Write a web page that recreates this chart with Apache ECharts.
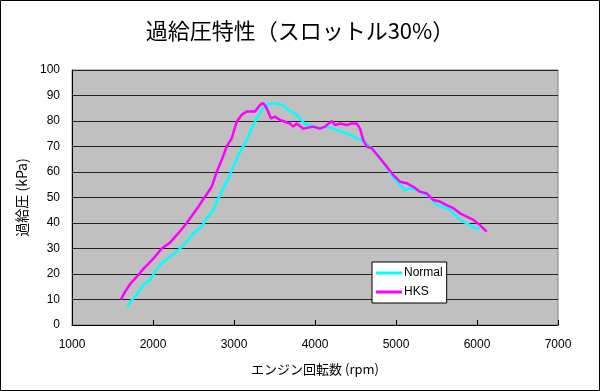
<!DOCTYPE html>
<html>
<head>
<meta charset="utf-8">
<script src="https://cdn.jsdelivr.net/npm/echarts@6/dist/echarts.min.js"></script>
<style>
html,body{margin:0;padding:0;background:#fff;}
#c{width:600px;height:391px;}
</style>
</head>
<body>
<div id="c"></div>
<script>
const titleText = '過給圧特性（スロットル30%）';
const xName = 'エンジン回転数 (rpm)';
const yName = '過給圧 (kPa)';
const seriesNames = ['Normal', 'HKS'];

const normalRpm = [1687,1737,1798,1881,1963,2025,2107,2210,2313,2416,2498,2601,2663,2745,2807,2868,2930,2992,3053,3115,3177,3218,3280,3342,3403,3486,3609,3671,3753,3815,3877,3979,4062,4144,4226,4309,4391,4473,4535,4596,4658,4741,4823,4905,4988,5049,5111,5173,5255,5337,5420,5502,5584,5667,5749,5831,5914,5975,6037];
const normalKpa = [7.2,9.8,11.8,15.7,17.6,20.9,24.2,26.8,29.4,32.7,36,38.6,41.8,45.1,49.7,53.6,57.5,62.1,66.7,70,73.9,77.1,81,84.3,86.3,87,86.3,84.3,83,81,78.8,77.8,77,77.8,77,76,75.2,73.9,72.8,72.5,70.6,68,64.7,60.8,56.9,54.9,52.9,53.6,52.9,51.6,50.3,47,46.4,45.1,42.5,40.5,39.2,37.9,37.9];

const hksRpm = [1605,1654,1716,1819,1881,2004,2107,2210,2313,2416,2560,2642,2725,2786,2848,2910,2971,3033,3095,3157,3259,3321,3362,3403,3457,3506,3568,3691,3732,3774,3856,3979,4062,4123,4206,4247,4309,4391,4453,4515,4556,4596,4638,4700,4802,4885,4967,5049,5132,5214,5296,5379,5461,5543,5626,5708,5790,5873,5955,6037,6120];
const hksKpa = [10,13,16,19.6,22,26,30,32.3,36,40,46.4,50.3,54.2,60,64.7,70,73.2,79.7,82.4,83.7,83.7,86.3,87,85,81,81.7,80.4,79,77.8,79,77,77.8,77,77.8,80,78.4,79,78.4,79,79,77,72.5,70,69.3,65.4,62.1,58.8,56.2,55.6,54.2,52.3,51.6,49,48.4,47,45.8,43.8,42.5,41.2,39.2,36.6];

const xTicks = {min:1000, max:7000, interval:1000};
const yTicks = {min:0, max:100, interval:10};

function pairs(xs, ys){ return xs.map((x,i)=>[x, ys[i]]); }

const chart = echarts.init(document.getElementById('c'), null, {renderer:'canvas'});
const font = '"Liberation Sans", "Noto Sans CJK JP", sans-serif';
const jfont = '"Noto Sans CJK JP", sans-serif';
chart.setOption({
  animation:false,
  backgroundColor:'#fff',
  textStyle:{fontFamily:font},
  title:{
    text:titleText, left:'center', top:15,
    textStyle:{fontFamily:jfont, fontSize:22, fontWeight:'normal', color:'#000'}
  },
  graphic:[{type:'rect', shape:{x:0.5,y:0.5,width:599,height:390}, style:{fill:'none', stroke:'#000', lineWidth:1}, silent:true}],
  grid:{left:72, right:42, top:70, bottom:66, show:true, backgroundColor:'#C0C0C0', borderColor:'#808080', borderWidth:1},
  legend:{
    orient:'vertical', left:372, top:262,
    backgroundColor:'#fff', borderColor:'#000', borderWidth:1,
    padding:[4,4,4,4], itemGap:5, itemWidth:26, itemHeight:3,
    icon:'rect',
    textStyle:{fontFamily:font, fontSize:12, color:'#000', lineHeight:14, padding:[0,0,0,-3]},
    data:seriesNames
  },
  xAxis:{
    type:'value', min:xTicks.min, max:xTicks.max, interval:xTicks.interval,
    name:xName, nameLocation:'middle', nameGap:38,
    nameTextStyle:{fontFamily:jfont, fontSize:13, color:'#000'},
    axisLine:{show:true, lineStyle:{color:'#000', width:1}},
    axisTick:{show:true, inside:true, length:5, lineStyle:{color:'#000'}},
    axisLabel:{fontSize:12, color:'#000', margin:14, fontFamily:font, formatter:v=>String(v)},
    splitLine:{show:false}
  },
  yAxis:{
    type:'value', min:yTicks.min, max:yTicks.max, interval:yTicks.interval,
    name:yName, nameLocation:'middle', nameGap:38, nameRotate:90,
    nameTextStyle:{fontFamily:jfont, fontSize:14, color:'#000'},
    axisLine:{show:true, lineStyle:{color:'#000', width:1}},
    axisTick:{show:false},
    axisLabel:{fontSize:12, color:'#000', margin:12, fontFamily:font, formatter:v=>String(v)},
    splitLine:{show:true, lineStyle:{color:'#222', width:1}}
  },
  series:[
    {name:seriesNames[0], type:'line', data:pairs(normalRpm, normalKpa), showSymbol:false, symbol:'none',
     lineStyle:{color:'#00FFFF', width:2.5}, itemStyle:{color:'#00FFFF'}, z:2},
    {name:seriesNames[1], type:'line', data:pairs(hksRpm, hksKpa), showSymbol:false, symbol:'none',
     lineStyle:{color:'#FF00FF', width:2.5}, itemStyle:{color:'#FF00FF'}, z:3}
  ]
});
</script>
</body>
</html>
